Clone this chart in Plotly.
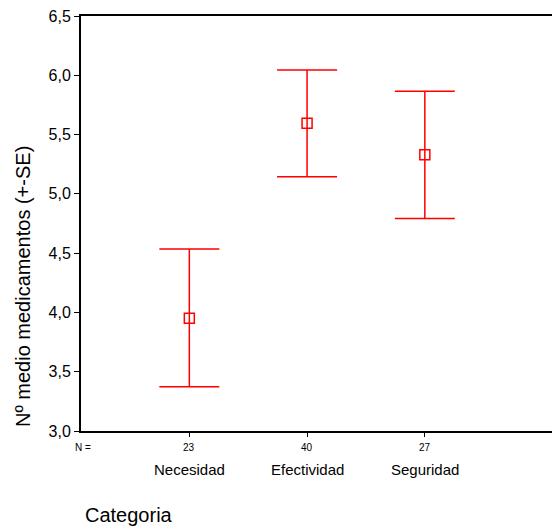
import plotly.graph_objects as go

categories = ["Necesidad", "Efectividad", "Seguridad"]
n_counts = ["23", "40", "27"]
means = [3.95, 5.595, 5.33]
upper = [4.535, 6.045, 5.865]
lower = [3.374, 5.145, 4.792]
yticks = [3.0, 3.5, 4.0, 4.5, 5.0, 5.5, 6.0, 6.5]

xpos = list(range(1, len(categories) + 1))
err_plus = [u - m for u, m in zip(upper, means)]
err_minus = [m - l for m, l in zip(means, lower)]

FONT = "Liberation Sans, Arial, sans-serif"

# plot area in pixels
L, T, B, W, H = 81, 16, 431, 552, 529
PW, PH = W - L, B - T

def px_x(x):
    return (x - L) / PW

def px_y(y):
    return (B - y) / PH

fig = go.Figure()
fig.add_trace(go.Scatter(
    x=xpos, y=means, mode="markers",
    marker=dict(symbol="square-open", size=10, color="#ff0000", line=dict(width=1.5, color="#ff0000")),
    error_y=dict(type="data", symmetric=False, array=err_plus, arrayminus=err_minus,
                 color="#ff0000", thickness=1.5, width=30),
    showlegend=False, hoverinfo="skip",
))

annotations = [dict(x=px_x(83), y=px_y(447), xref="paper", yref="paper", text="N =", showarrow=False,
                    font=dict(size=10, color="#000", family=FONT), xanchor="center", yanchor="middle")]
for xp, n, c in zip(xpos, n_counts, categories):
    annotations.append(dict(x=xp, y=px_y(447), xref="x", yref="paper", text=n, showarrow=False,
                            font=dict(size=10, color="#000", family=FONT), xanchor="center", yanchor="middle"))
    annotations.append(dict(x=xp, y=px_y(469), xref="x", yref="paper", text=c, showarrow=False,
                            font=dict(size=15, color="#000", family=FONT), xanchor="center", yanchor="middle"))
annotations.append(dict(x=px_x(83), y=px_y(515), xref="paper", yref="paper", text="Categoria", showarrow=False,
                        font=dict(size=20, color="#000", family=FONT), xanchor="left", yanchor="middle"))
annotations.append(dict(x=px_x(23), y=px_y(287), xref="paper", yref="paper", text="Nº medio medicamentos (+-SE)",
                        showarrow=False, textangle=-90,
                        font=dict(size=20, color="#000", family=FONT), xanchor="center", yanchor="middle"))

fig.update_layout(
    width=W, height=H,
    margin=dict(l=L, r=0, t=T, b=H - B, pad=0),
    paper_bgcolor="white", plot_bgcolor="white",
    separators=",.",
    font=dict(family=FONT, color="#000"),
    annotations=annotations,
    xaxis=dict(range=[0.08, 4.08], tickvals=xpos, showticklabels=False, ticks="outside", ticklen=4,
               tickcolor="#000", showgrid=False, zeroline=False, showline=True, linecolor="#000",
               linewidth=2, mirror=True),
    yaxis=dict(range=[3.0, 6.5], tickvals=yticks, tickformat=".1f", ticks="outside", ticklen=5,
               tickcolor="#000", showgrid=False, zeroline=False, showline=True, linecolor="#000",
               linewidth=2, tickfont=dict(size=16, color="#000", family=FONT)),
)

fig.write_html("out.html", config={"displayModeBar": False},
               post_script="document.body.style.margin='0';document.body.style.overflow='hidden';")
